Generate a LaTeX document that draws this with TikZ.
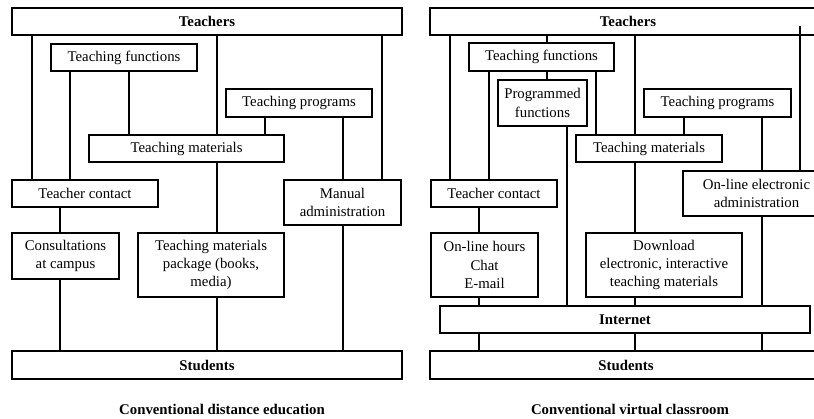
\documentclass[tikz,border=0pt]{standalone}
\usepackage{fontspec}
\setmainfont{Liberation Serif}
\newcommand\vcon[3]{\coordinate (vx) at (#1,0); \draw[conn] (#2 -| vx) -- (#3 -| vx);}
\begin{document}
\begin{tikzpicture}[x=1pt,y=-1pt,
  box/.style={draw, line width=1.2pt, inner sep=1pt, outer sep=0pt, align=center, anchor=north west,
    font=\fontsize{14.8}{18.3}\selectfont},
  bbox/.style={box, font=\fontsize{14.8}{18.3}\selectfont\bfseries},
  conn/.style={line width=1.2pt},
  captext/.style={font=\fontsize{14.8}{18}\selectfont\bfseries, anchor=base, inner sep=0pt}]
\useasboundingbox (0,0) rectangle (814,419);
\clip (0,0) rectangle (814,419);
% ---------- left diagram ----------
\node[bbox, minimum width=390pt, minimum height=27pt] (TL) at (12,8) {Teachers};
\node[box, minimum width=146pt, minimum height=27pt] (TF) at (51,44) {Teaching functions};
\node[box, minimum width=146pt, minimum height=28pt] (TP) at (226,89) {Teaching programs};
\node[box, minimum width=195pt, minimum height=27pt] (TM) at (89,135) {Teaching materials};
\node[box, minimum width=146pt, minimum height=27pt] (TC) at (12,180) {Teacher contact};
\node[box, minimum width=117pt, minimum height=45pt] (MA) at (284,180) {Manual\\administration};
\node[box, minimum width=107pt, minimum height=46pt] (CC) at (12,233) {Consultations\\at campus};
\node[box, minimum width=146pt, minimum height=64pt] (TMP) at (138,233) {Teaching materials\\package (books,\\media)};
\node[bbox, minimum width=390pt, minimum height=28pt] (SL) at (12,351) {Students};
\node[captext] (CL) at (222,415) {Conventional distance education};
\vcon{32}{TL.south}{TC.north}
\vcon{217}{TL.south}{TM.north}
\vcon{217}{TM.south}{TMP.north}
\vcon{217}{TMP.south}{SL.north}
\vcon{382}{TL.south}{MA.north}
\vcon{70}{TF.south}{TC.north}
\vcon{129}{TF.south}{TM.north}
\vcon{265}{TP.south}{TM.north}
\vcon{343}{TP.south}{MA.north}
\vcon{343}{MA.south}{SL.north}
\vcon{60}{TC.south}{CC.north}
\vcon{60}{CC.south}{SL.north}
% ---------- right diagram ----------
\node[bbox, minimum width=396pt, minimum height=27pt] (TR) at (430,8) {Teachers};
\node[box, minimum width=145pt, minimum height=28pt] (TF2) at (469,43) {Teaching functions};
\node[box, minimum width=89pt, minimum height=46pt] (PF) at (498,80) {Programmed\\functions};
\node[box, minimum width=147pt, minimum height=28pt] (TP2) at (644,89) {Teaching programs};
\node[box, minimum width=146pt, minimum height=27pt] (TM2) at (576,135) {Teaching materials};
\node[box, minimum width=126pt, minimum height=27pt] (TC2) at (431,180) {Teacher contact};
\node[box, minimum width=147pt, minimum height=45pt] (OA) at (683,171) {On-line electronic\\administration};
\node[box, minimum width=107pt, minimum height=64pt] (OH) at (431,233) {On-line hours\\Chat\\E-mail};
\node[box, minimum width=156pt, minimum height=64pt] (DL) at (586,233) {Download\\electronic, interactive\\teaching materials};
\node[bbox, minimum width=370pt, minimum height=27pt] (IN) at (440,306) {Internet};
\node[bbox, minimum width=392pt, minimum height=28pt] (SR) at (430,351) {Students};
\node[captext] (CR) at (630,415) {Conventional virtual classroom};
\coordinate (top800) at (800,26);
\vcon{450}{TR.south}{TC2.north}
\vcon{547}{TR.south}{TF2.north}
\vcon{547}{TF2.south}{PF.north}
\vcon{635}{TR.south}{TM2.north}
\vcon{635}{TM2.south}{DL.north}
\vcon{635}{DL.south}{IN.north}
\vcon{635}{IN.south}{SR.north}
\vcon{800}{top800}{OA.north}
\vcon{489}{TF2.south}{TC2.north}
\vcon{596}{TF2.south}{TM2.north}
\vcon{567}{PF.south}{IN.north}
\vcon{684}{TP2.south}{TM2.north}
\vcon{762}{TP2.south}{OA.north}
\vcon{762}{OA.south}{IN.north}
\vcon{762}{IN.south}{SR.north}
\vcon{479}{TC2.south}{OH.north}
\vcon{479}{OH.south}{IN.north}
\vcon{479}{IN.south}{SR.north}
\end{tikzpicture}
\end{document}
